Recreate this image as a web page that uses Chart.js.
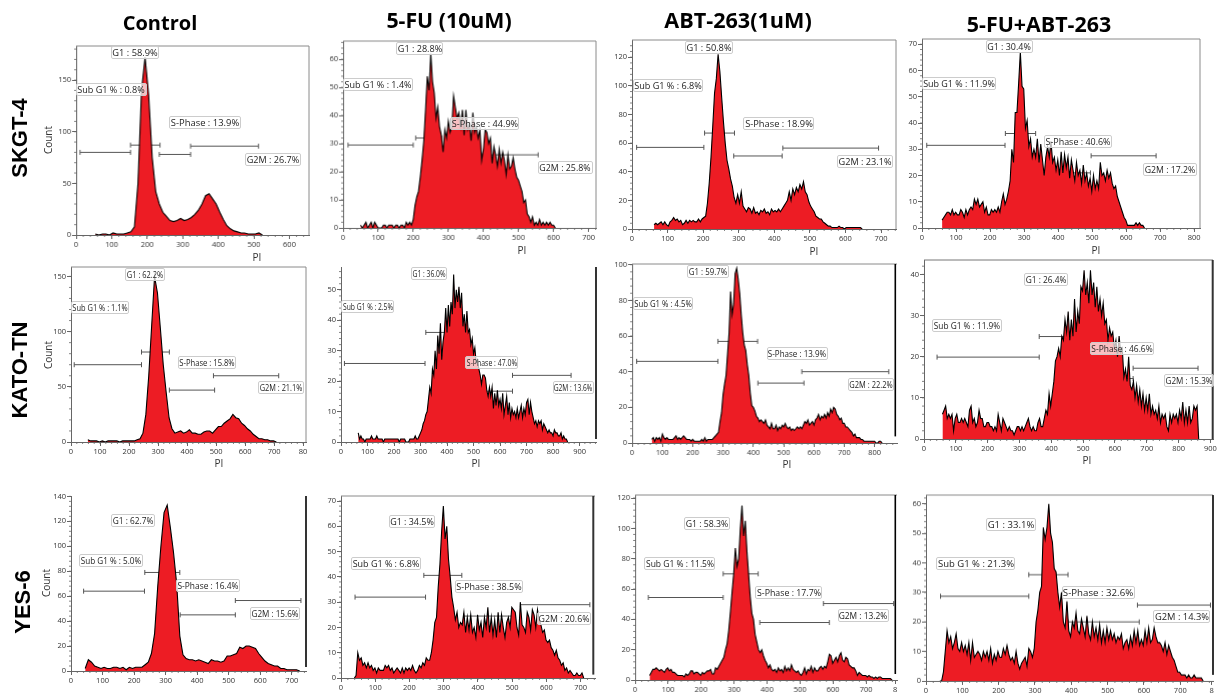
<!DOCTYPE html>
<html>
<head>
<meta charset="utf-8">
<title>Cell cycle histograms</title>
<script src="https://cdn.jsdelivr.net/npm/chart.js@4"></script>
<style>
html, body { margin: 0; background: #fff; overflow: hidden; }
#page { position: relative; width: 1217px; height: 694px; overflow: hidden; filter: blur(0.35px); }
canvas { position: absolute; }
.txt { position: absolute; white-space: nowrap; transform: translate(-50%, -50%); color: #111; }
.col { font-family: "Open Sans"; font-weight: bold; color: #000; }
.row { font: bold 22px "Liberation Sans"; color: #000; transform: translate(-50%, -50%) rotate(-90deg); }
.axis { font: 10px "Open Sans"; color: #333; }
.count { transform: translate(-50%, -50%) rotate(-90deg); }
.gate { position: absolute; box-sizing: border-box; height: 13px; border: 1px solid #ccc; border-radius: 2px;
  background: rgba(255, 255, 255, 0.72); }
.gate span { position: absolute; left: 50%; top: -1px; font: 9.5px/13px "Open Sans"; color: #222; white-space: nowrap; }
</style>
</head>
<body>
<div id="page"></div>
<script>
const colTitles = ['Control', '5-FU (10uM)', 'ABT-263(1uM)', '5-FU+ABT-263'];
const rowTitles = ['SKGT-4', 'KATO-TN', 'YES-6'];
const gateNames = ['Sub G1', 'G1', 'S-Phase', 'G2M'];

// histogram counts, one value every `step` PI from the start value
const startSkgtControl = 54, stepSkgtControl = 10;
const countSkgtControl = [1,0,1,1,0,2,1,1,1,2,3,8,50,140,172,135,75,42,30,22,18,14,13,14,16,14,15,17,20,24,30,38,40,35,30,22,15,9,6,4,3,2,2,1,1,1,2,0];
const startSkgtFu = 50, stepSkgtFu = 5;
const countSkgtFu = [1,0,1,2,0,1,2,0,2,1,0,0,0,1,1,0,1,1,1,0,1,1,0,1,1,0,2,1,2,1,3,8,11,13,18,24,31,42,54,49,62,52,48,39,43,36,33,27,35,32,38,34,36,47,43,39,41,36,42,33,42,35,37,31,41,34,36,32,35,24,28,35,34,30,32,23,29,26,22,28,23,27,24,19,26,21,22,25,21,18,17,15,13,9,10,5,4,2,4,1,2,1,3,1,2,1,2,1,2,1,1,0];
const startSkgtAbt = 62, stepSkgtAbt = 5;
const countSkgtAbt = [3,4,3,4,5,3,5,3,2,5,6,8,6,7,5,6,3,4,6,4,6,5,6,5,5,7,5,7,8,9,18,32,50,72,95,105,122,110,92,75,60,48,42,35,30,22,18,24,18,26,16,14,12,15,14,11,15,11,12,10,13,12,14,11,12,10,14,12,13,12,14,12,14,16,18,20,26,20,28,24,29,26,31,28,33,26,24,19,16,14,12,9,8,7,7,5,4,3,2,2,1,1,1,1,2,1,1,0,1,1,1,1,1,1,1,1,1,0];
const startSkgtCombo = 59, stepSkgtCombo = 5;
const countSkgtCombo = [3,4,5,6,6,5,7,5,6,5,5,7,6,4,7,5,7,8,7,11,9,11,8,9,10,6,8,5,5,7,6,7,6,8,6,10,13,9,11,14,18,30,25,44,44,55,67,54,53,38,41,31,34,27,30,27,34,25,32,26,20,27,31,27,33,25,27,22,26,20,29,21,28,23,27,19,26,22,18,25,20,22,17,24,18,21,16,19,14,20,15,18,15,25,20,21,18,22,19,21,17,15,16,12,10,8,6,4,3,1,1,1,1,1,2,1,2,1,1,0];
const startKatoControl = 58, stepKatoControl = 10;
const countKatoControl = [2,1,1,1,0,1,0,1,1,1,1,0,1,1,1,1,1,2,3,8,25,60,105,150,135,103,70,45,22,12,8,9,10,8,9,11,8,8,7,7,9,10,10,8,11,14,14,17,19,21,25,22,21,17,15,12,10,7,5,3,3,2,2,1,1,0];
const startKatoFu = 65, stepKatoFu = 5;
const countKatoFu = [3,1,2,1,1,0,1,1,1,1,2,1,1,1,2,1,1,1,1,0,1,1,1,1,1,1,1,1,1,1,1,0,1,1,1,1,0,0,0,1,1,1,1,2,1,1,2,3,4,6,7,9,10,14,18,16,24,22,30,24,35,29,39,27,33,36,44,36,45,38,46,42,55,44,50,46,51,44,49,38,42,36,43,36,37,32,34,29,31,26,27,24,22,19,22,22,21,17,15,18,15,18,11,16,12,17,12,14,11,16,9,12,15,9,13,8,11,9,10,8,11,8,10,12,8,11,9,13,14,9,13,10,8,6,7,5,7,6,7,4,6,5,4,3,4,3,3,2,4,3,3,2,2,3,1,2,1,1,0];
const startKatoAbt = 65, stepKatoAbt = 5;
const countKatoAbt = [2,3,1,3,2,3,1,5,3,2,3,2,2,2,2,3,4,2,3,2,3,4,3,2,2,2,1,2,1,1,1,1,1,2,1,3,1,2,2,2,2,3,4,5,6,12,17,27,33,38,50,62,85,72,78,95,98,92,84,72,62,55,52,44,38,28,21,20,18,15,14,12,13,12,11,13,10,9,8,11,8,8,10,7,9,8,10,9,11,9,8,9,7,8,7,8,9,8,9,8,10,12,11,13,10,11,12,10,13,14,16,13,15,14,16,14,17,15,19,17,20,19,16,15,13,14,11,11,9,9,8,7,6,4,5,3,3,3,2,2,1,1,1,1,1,1,1,1,0,0,1,1,0];
const startKatoCombo = 58, stepKatoCombo = 5;
const countKatoCombo = [6,7,8,5,6,5,6,2,5,6,4,4,5,4,5,4,3,7,8,4,5,3,4,7,5,5,3,3,4,4,3,3,2,3,2,6,4,2,5,4,3,2,3,2,2,1,2,3,3,2,3,2,3,4,5,3,2,3,2,2,4,5,3,3,5,7,6,11,8,11,14,19,20,22,20,25,24,29,26,31,24,29,25,34,26,31,28,37,36,41,35,38,33,41,35,38,32,37,31,34,30,33,28,29,24,27,25,26,22,24,20,25,21,22,15,17,14,20,13,12,14,10,13,9,12,8,11,7,10,7,11,6,8,6,7,5,8,4,6,5,6,3,2,6,4,6,5,6,4,7,5,9,4,7,4,8,4,5,8,7,8,0];
const startYesControl = 45, stepYesControl = 10;
const countYesControl = [2,9,7,4,3,2,3,2,2,3,3,2,3,1,3,2,3,3,3,5,7,14,30,68,100,127,133,115,95,70,28,13,10,9,9,8,9,8,7,6,9,8,8,7,8,12,12,13,14,19,18,20,20,19,18,14,11,8,6,5,4,4,2,2,1,1,1,1,0];
const startYesFu = 39, stepYesFu = 5;
const countYesFu = [0,1,10,7,8,5,6,4,6,4,5,3,4,2,4,3,3,3,5,4,5,3,4,2,3,4,3,2,4,2,4,3,4,3,5,3,2,3,5,4,6,5,8,7,7,10,15,22,24,36,45,58,68,55,60,47,40,32,28,23,26,20,22,21,26,18,24,19,25,18,20,16,25,19,22,16,24,20,28,18,24,17,23,16,26,18,25,20,16,22,24,20,28,27,26,20,17,30,21,20,18,26,24,19,27,25,20,27,23,21,18,19,15,14,15,12,11,9,11,8,7,5,6,3,4,2,3,2,1,1,2,1,1,2,0];
const startYesAbt = 44, stepYesAbt = 5;
const countYesAbt = [3,5,7,7,8,7,6,7,6,5,7,8,6,7,5,5,4,3,3,3,3,2,4,3,4,6,6,4,5,5,4,3,5,4,5,6,6,7,4,4,8,7,9,11,13,15,20,24,33,45,58,70,87,75,80,100,115,95,105,85,70,55,44,40,30,25,20,18,20,16,13,11,8,10,7,6,7,5,8,6,7,5,9,6,8,6,10,7,6,5,6,4,3,5,8,4,7,6,9,5,8,6,6,8,9,7,9,8,12,17,16,11,13,15,12,16,18,13,12,15,14,10,9,8,8,6,3,5,4,3,3,3,2,3,2,2,1,2,1,2,2,1,1,1,1,1,1,0];
const startYesCombo = 38, stepYesCombo = 5;
const countYesCombo = [0,0,3,10,17,13,15,11,13,16,11,10,13,10,12,9,13,7,13,8,9,10,9,7,10,8,10,7,11,6,9,7,10,8,8,11,9,12,9,7,8,6,10,6,4,6,7,8,5,11,10,8,11,20,24,30,32,52,48,52,60,50,47,38,37,30,25,30,20,18,27,17,15,20,18,23,17,16,21,18,15,22,16,14,20,15,18,14,19,13,17,13,18,14,17,14,16,13,15,14,16,11,13,14,11,15,12,17,13,17,12,14,12,17,13,18,13,14,18,15,13,13,12,10,13,9,12,10,8,7,5,3,3,2,2,2,1,2,1,1,2,1,1,1,1,0];

// tick values
const xTicksSkgtControl = [0,100,200,300,400,500,600];
const yTicksSkgtControl = [0,50,100,150];
const xTicksSkgtFu = [0,100,200,300,400,500,600,700];
const yTicksSkgtFu = [0,10,20,30,40,50,60];
const xTicksSkgtAbt = [0,100,200,300,400,500,600,700];
const yTicksSkgtAbt = [0,20,40,60,80,100,120];
const xTicksSkgtCombo = [0,100,200,300,400,500,600,700,800];
const yTicksSkgtCombo = [0,10,20,30,40,50,60,70];
const xTicksKatoControl = [0,100,200,300,400,500,600,700,800];
const yTicksKatoControl = [0,50,100,150];
const xTicksKatoFu = [0,100,200,300,400,500,600,700,800,900];
const yTicksKatoFu = [0,10,20,30,40,50];
const xTicksKatoAbt = [0,100,200,300,400,500,600,700,800];
const yTicksKatoAbt = [0,20,40,60,80,100];
const xTicksKatoCombo = [0,100,200,300,400,500,600,700,800,900];
const yTicksKatoCombo = [0,10,20,30,40];
const xTicksYesControl = [0,100,200,300,400,500,600,700];
const yTicksYesControl = [0,20,40,60,80,100,120,140];
const xTicksYesFu = [0,100,200,300,400,500,600,700];
const yTicksYesFu = [0,10,20,30,40,50,60,70];
const xTicksYesAbt = [0,100,200,300,400,500,600,700,788];
const yTicksYesAbt = [0,20,40,60,80,100,120];
const xTicksYesCombo = [0,100,200,300,400,500,600,700,786];
const yTicksYesCombo = [0,10,20,30,40,50,60];
// labels that are cut off by the edge of the picture
const cutTickText = { 'KatoControl800': '80', 'YesAbt788': '8', 'YesCombo786': '8' };

// axis ranges
const xMaxes = [655, 721, 742, 817, 810, 962, 874, 908, 745, 742, 794, 790];
const yMaxes = [183, 66.5, 132, 72, 158.5, 57.5, 100.4, 43.5, 140.3, 72, 122, 63];

// gates per panel: Sub G1, G1, S-Phase, G2M as [from, to, height]
const gatesSkgtControl = [[11,153,80],[153,236,87],[234,322,78],[322,513,86]];
const gatesSkgtFu = [[14,200,29.5],[207,281,32],[278,402,26.4],[402,556,26]];
const gatesSkgtAbt = [[13,202,57],[204,288,67],[286,422,51],[424,693,56.5]];
const gatesSkgtCombo = [[14,244,31.5],[245,334,36],[331,495,21],[497,688,27.5]];
const gatesKatoControl = [[11,243,70],[243,339,81.5],[339,495,47],[491,716,60]];
const gatesKatoFu = [[13,317,25.8],[320,438,36],[438,647,16.7],[647,868,21.9]];
const gatesKatoAbt = [[15,283,45.8],[283,414,57],[415,567,33.6],[560,847,40]];
const gatesKatoCombo = [[41,362,19.9],[362,493,24.9],[492,657,14.7],[657,861,17.2]];
const gatesYesControl = [[40,233,64],[234,345,79],[346,521,45],[521,729,56.5]];
const gatesYesFu = [[41,247,32],[242,353,40.6],[358,510,24.5],[524,727,29]];
const gatesYesAbt = [[40,267,54.4],[267,373,70],[378,589,37.9],[571,784,50.4]];
const gatesYesCombo = [[40,283,28.7],[283,391,36],[391,587,20],[582,783,25.7]];

// gate percentages, same order as gateNames
const pctSkgtControl = ['0.8','58.9','13.9','26.7'];
const pctSkgtFu = ['1.4','28.8','44.9','25.8'];
const pctSkgtAbt = ['6.8','50.8','18.9','23.1'];
const pctSkgtCombo = ['11.9','30.4','40.6','17.2'];
const pctKatoControl = ['1.1','62.2','15.8','21.1'];
const pctKatoFu = ['2.5','36.0','47.0','13.6'];
const pctKatoAbt = ['4.5','59.7','13.9','22.2'];
const pctKatoCombo = ['11.9','26.4','46.6','15.3'];
const pctYesControl = ['5.0','62.7','16.4','15.6'];
const pctYesFu = ['6.8','34.5','38.5','20.6'];
const pctYesAbt = ['11.5','58.3','17.7','13.2'];
const pctYesCombo = ['21.3','33.1','32.6','14.3'];

const panels = [
  { key: 'SkgtControl', start: startSkgtControl, step: stepSkgtControl, counts: countSkgtControl, xTicks: xTicksSkgtControl, yTicks: yTicksSkgtControl, gates: gatesSkgtControl, pct: pctSkgtControl },
  { key: 'SkgtFu', start: startSkgtFu, step: stepSkgtFu, counts: countSkgtFu, xTicks: xTicksSkgtFu, yTicks: yTicksSkgtFu, gates: gatesSkgtFu, pct: pctSkgtFu },
  { key: 'SkgtAbt', start: startSkgtAbt, step: stepSkgtAbt, counts: countSkgtAbt, xTicks: xTicksSkgtAbt, yTicks: yTicksSkgtAbt, gates: gatesSkgtAbt, pct: pctSkgtAbt },
  { key: 'SkgtCombo', start: startSkgtCombo, step: stepSkgtCombo, counts: countSkgtCombo, xTicks: xTicksSkgtCombo, yTicks: yTicksSkgtCombo, gates: gatesSkgtCombo, pct: pctSkgtCombo },
  { key: 'KatoControl', start: startKatoControl, step: stepKatoControl, counts: countKatoControl, xTicks: xTicksKatoControl, yTicks: yTicksKatoControl, gates: gatesKatoControl, pct: pctKatoControl },
  { key: 'KatoFu', start: startKatoFu, step: stepKatoFu, counts: countKatoFu, xTicks: xTicksKatoFu, yTicks: yTicksKatoFu, gates: gatesKatoFu, pct: pctKatoFu },
  { key: 'KatoAbt', start: startKatoAbt, step: stepKatoAbt, counts: countKatoAbt, xTicks: xTicksKatoAbt, yTicks: yTicksKatoAbt, gates: gatesKatoAbt, pct: pctKatoAbt },
  { key: 'KatoCombo', start: startKatoCombo, step: stepKatoCombo, counts: countKatoCombo, xTicks: xTicksKatoCombo, yTicks: yTicksKatoCombo, gates: gatesKatoCombo, pct: pctKatoCombo },
  { key: 'YesControl', start: startYesControl, step: stepYesControl, counts: countYesControl, xTicks: xTicksYesControl, yTicks: yTicksYesControl, gates: gatesYesControl, pct: pctYesControl },
  { key: 'YesFu', start: startYesFu, step: stepYesFu, counts: countYesFu, xTicks: xTicksYesFu, yTicks: yTicksYesFu, gates: gatesYesFu, pct: pctYesFu },
  { key: 'YesAbt', start: startYesAbt, step: stepYesAbt, counts: countYesAbt, xTicks: xTicksYesAbt, yTicks: yTicksYesAbt, gates: gatesYesAbt, pct: pctYesAbt },
  { key: 'YesCombo', start: startYesCombo, step: stepYesCombo, counts: countYesCombo, xTicks: xTicksYesCombo, yTicks: yTicksYesCombo, gates: gatesYesCombo, pct: pctYesCombo }
];

// layout, page pixels: plot box as left, right, top, bottom
const plotBoxes = [
  [76.3,309,46,235], [343.3,595.7,41,227.7], [631.7,895.7,40,229], [921.7,1200,39,228.3],
  [70.7,306,267.3,442.3], [340.7,595.7,267,442.3], [632.3,896.7,264.3,443.3], [924,1213.3,259.7,439],
  [70.7,306,495.7,671], [341,595,495.7,677.7], [635.3,896.7,495,680], [926,1213,495,680.7]
];
// top border colour and the black bar near the right edge: colour, width, x inset, bottom pixel
const frames = [
  { top: '#8a8a8a', bar: ['#8a8a8a',1,0,235] }, { top: '#8a8a8a', bar: ['#8a8a8a',1,0,227.7] }, { top: '#8a8a8a', bar: ['#8a8a8a',1,0,229] }, { top: '#8a8a8a', bar: ['#8a8a8a',1,0,228.3] },
  { top: '#8a8a8a', bar: ['#8a8a8a',1,0,442.3] }, { top: null, bar: ['#000',1.6,0,439] }, { top: '#8a8a8a', bar: ['#000',1.6,1.7,436.7] }, { top: '#777', bar: ['#333',2,0.3,439] },
  { top: null, bar: ['#000',1.6,0,666.7] }, { top: '#8a8a8a', bar: ['#333',2,1.7,674.3] }, { top: '#8a8a8a', bar: ['#000',1.6,1.7,674] }, { top: '#8a8a8a', bar: ['#000',1.6,0,674] }
];
// gate label boxes in 3x crop coordinates: from, to, centre y, in Sub G1, G1, S-Phase, G2M order
const cropOrigins = [[0,0],[330,0],[610,0],[905,0],[0,255],[330,255],[610,255],[905,255],[0,485],[330,485],[610,485],[905,485]];
const labelBoxes = [
  [[229,440,268],[333,478,158],[508,722,366],[735,902,478]],
  [[40,250,253],[198,340,145],[360,568,369],[625,788,501]],
  [[68,280,255],[224,368,142],[400,612,371],[680,848,483]],
  [[50,274,249],[243,383,138],[418,622,425],[715,876,507]],
  [[213,388,157],[376,494,57],[533,708,321],[775,912,397]],
  [[33,192,153],[242,350,54],[405,565,323],[668,793,398]],
  [[68,250,144],[232,356,48],[470,654,294],[713,852,388]],
  [[82,290,210],[357,488,72],[555,748,281],[778,928,375]],
  [[238,428,225],[333,464,105],[528,720,302],[750,900,385]],
  [[63,272,234],[176,316,108],[375,580,303],[620,782,400]],
  [[102,315,236],[223,360,115],[435,636,323],[683,838,391]],
  [[93,330,235],[243,392,118],[470,690,321],[745,916,395]]
];
const titlePos = [[160,22],[449,19],[738,19],[1039,23]];
const titleSizes = [20, 21.3, 21.6, 21.4];
const rowPos = [[20,138],[20,370],[23,602]];
const piPos = [[257,257],[522,250],[814,251],[1096,250],[219,463],[476,463],[787,464],[1087,460]];
const countPos = [[48,140],[48,355],[46,583]];

const page = document.getElementById('page');
const leftPad = 34, rightPad = 14, topPad = 8, bottomPad = 24;

function addText(text, cls, pos) {
  const d = document.createElement('div');
  d.className = 'txt ' + cls;
  d.textContent = text;
  d.style.left = pos[0] + 'px';
  d.style.top = pos[1] + 'px';
  page.appendChild(d);
  return d;
}

// top border, right bar and the small minor ticks
const framePlugin = {
  id: 'framePlugin',
  afterDraw(chart, args, opts) {
    const ctx = chart.ctx, a = chart.chartArea, f = opts.frame;
    ctx.save();
    if (f.top) {
      ctx.strokeStyle = f.top; ctx.lineWidth = 1;
      ctx.beginPath(); ctx.moveTo(a.left, a.top); ctx.lineTo(a.right, a.top); ctx.stroke();
    }
    const barX = a.right - f.bar[2];
    ctx.strokeStyle = f.bar[0]; ctx.lineWidth = f.bar[1];
    ctx.beginPath(); ctx.moveTo(barX, a.top); ctx.lineTo(barX, f.bar[3] - opts.canvasTop); ctx.stroke();

    ctx.strokeStyle = '#666'; ctx.lineWidth = 0.8;
    const x = chart.scales.x, y = chart.scales.y;
    ctx.beginPath();
    for (let v = 20; v < x.max; v += 20) {
      const p = x.getPixelForValue(v);
      ctx.moveTo(p, a.bottom); ctx.lineTo(p, a.bottom + 2);
    }
    const yStep = opts.yStep / 5;
    for (let v = yStep; v < y.max; v += yStep) {
      const p = y.getPixelForValue(v);
      ctx.moveTo(a.left, p); ctx.lineTo(a.left - 2, p);
    }
    ctx.stroke();
    ctx.restore();
  }
};

panels.forEach((panel, i) => {
  const box = plotBoxes[i];
  const canvas = document.createElement('canvas');
  const w = box[1] - box[0] + leftPad + rightPad;
  const h = box[3] - box[2] + topPad + bottomPad;
  canvas.width = w; canvas.height = h;
  canvas.style.left = (box[0] - leftPad) + 'px';
  canvas.style.top = (box[2] - topPad) + 'px';
  canvas.style.width = w + 'px';
  canvas.style.height = h + 'px';
  page.appendChild(canvas);

  const hist = panel.counts.map((c, k) => ({ x: panel.start + k * panel.step, y: c }));
  const gateSets = panel.gates.map((g, k) => ({
    label: gateNames[k],
    data: [{ x: g[0], y: g[2] }, { x: g[1], y: g[2] }],
    borderColor: '#555', borderWidth: 1, fill: false, tension: 0,
    pointStyle: 'line', pointRotation: 90, pointRadius: 2.5,
    pointBorderColor: '#555', pointBorderWidth: 1
  }));

  new Chart(canvas, {
    type: 'line',
    data: {
      datasets: [{
        label: 'Count',
        data: hist,
        borderColor: '#000', borderWidth: 1.1, backgroundColor: '#ed1c24',
        fill: 'origin', pointRadius: 0, tension: 0
      }].concat(gateSets)
    },
    plugins: [framePlugin],
    options: {
      responsive: false,
      animation: false,
      devicePixelRatio: 1,
      layout: { padding: { left: 0, right: rightPad, top: topPad, bottom: 0 } },
      plugins: {
        legend: { display: false }, tooltip: { enabled: false }, title: { display: false },
        framePlugin: { frame: frames[i], canvasTop: box[2] - topPad, yStep: panel.yTicks[1] }
      },
      scales: {
        x: {
          type: 'linear', min: 0, max: xMaxes[i],
          afterBuildTicks(s) { s.ticks = panel.xTicks.map(v => ({ value: v })); },
          afterFit(s) { s.height = bottomPad; },
          grid: { drawOnChartArea: false, tickLength: 4, tickColor: '#666' },
          border: { color: '#666' },
          ticks: {
            autoSkip: false, maxRotation: 0, padding: 1, color: '#333',
            font: { family: 'Open Sans', size: 7.5 },
            callback: v => cutTickText[panel.key + v] || String(v)
          }
        },
        y: {
          type: 'linear', min: 0, max: yMaxes[i],
          afterBuildTicks(s) { s.ticks = panel.yTicks.map(v => ({ value: v })); },
          afterFit(s) { s.width = leftPad; },
          grid: { drawOnChartArea: false, tickLength: 4, tickColor: '#666' },
          border: { color: '#666' },
          ticks: {
            autoSkip: false, padding: 1, color: '#333',
            font: { family: 'Open Sans', size: 7.5 }
          }
        }
      }
    }
  });
});

// text on top of the charts, squeezed sideways to fill its box like the stretched originals
const measure = document.createElement('canvas').getContext('2d');
measure.font = '9.5px "Open Sans"';
panels.forEach((panel, i) => {
  const org = cropOrigins[i];
  labelBoxes[i].forEach((b, k) => {
    const text = k === 0 ? 'Sub G1 % : ' + panel.pct[k] + '%' : gateNames[k] + ' : ' + panel.pct[k] + '%';
    const width = (b[1] - b[0]) / 3;
    const d = document.createElement('div');
    d.className = 'gate';
    d.style.left = (org[0] + b[0] / 3) + 'px';
    d.style.top = (org[1] + b[2] / 3 - 6.5) + 'px';
    d.style.width = width + 'px';
    const s = document.createElement('span');
    s.textContent = text;
    s.style.transform = 'translateX(-50%) scaleX(' + ((width - 3) / measure.measureText(text).width) + ')';
    d.appendChild(s);
    page.appendChild(d);
  });
});
colTitles.forEach((t, i) => { addText(t, 'col', titlePos[i]).style.fontSize = titleSizes[i] + 'px'; });
rowTitles.forEach((t, i) => addText(t, 'row', rowPos[i]));
piPos.forEach(p => addText('PI', 'axis', p));
countPos.forEach(p => addText('Count', 'axis count', p));
</script>
</body>
</html>
